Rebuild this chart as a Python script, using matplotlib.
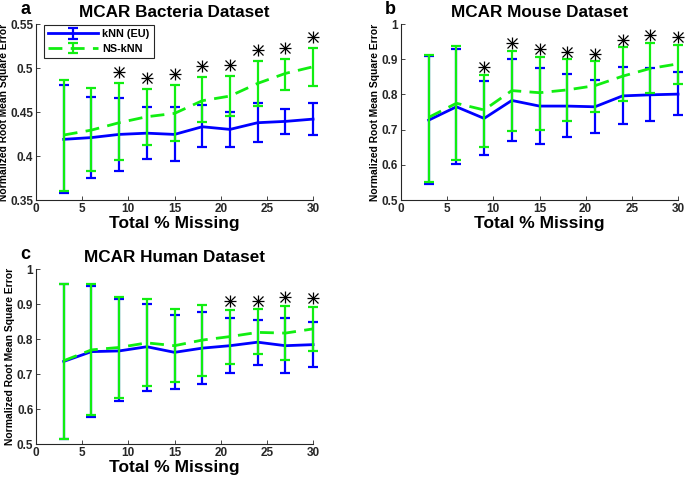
import numpy as np
import matplotlib
matplotlib.use('Agg')
import matplotlib.pyplot as plt

plt.rcParams['font.family'] = ['Liberation Sans', 'DejaVu Sans']
plt.rcParams['font.weight'] = 'bold'

# Total % missing
missing = [3, 6, 9, 12, 15, 18, 21, 24, 27, 30]

# Panel a: bacteria
bact_knn = [0.419, 0.421, 0.4246, 0.426, 0.4246, 0.4333, 0.4303, 0.4379, 0.4394, 0.442]
bact_knn_lo = [0.3576, 0.3754, 0.383, 0.3966, 0.3943, 0.4098, 0.4098, 0.4163, 0.425, 0.4239]
bact_knn_hi = [0.4803, 0.4667, 0.4659, 0.4557, 0.4557, 0.4576, 0.4504, 0.4598, 0.453, 0.4606]
bact_ns = [0.4239, 0.4295, 0.4379, 0.4447, 0.4485, 0.4629, 0.4682, 0.4826, 0.4939, 0.5015]
bact_ns_lo = [0.3606, 0.3826, 0.3955, 0.4125, 0.4174, 0.4386, 0.4455, 0.4568, 0.475, 0.4795]
bact_ns_hi = [0.486, 0.4773, 0.4826, 0.4761, 0.4803, 0.4894, 0.4909, 0.508, 0.5098, 0.5231]
bact_sig = [9, 12, 15, 18, 21, 24, 27, 30]

# Panel b: mouse
mouse_knn = [0.727, 0.765, 0.732, 0.783, 0.767, 0.767, 0.765, 0.796, 0.799, 0.801]
mouse_knn_lo = [0.546, 0.601, 0.629, 0.668, 0.66, 0.679, 0.69, 0.715, 0.725, 0.741]
mouse_knn_hi = [0.909, 0.929, 0.837, 0.9, 0.874, 0.858, 0.841, 0.877, 0.876, 0.863]
mouse_ns = [0.735, 0.775, 0.756, 0.811, 0.805, 0.813, 0.825, 0.852, 0.874, 0.887]
mouse_ns_lo = [0.55, 0.614, 0.651, 0.697, 0.7, 0.726, 0.749, 0.781, 0.805, 0.831]
mouse_ns_hi = [0.913, 0.939, 0.856, 0.924, 0.907, 0.9, 0.894, 0.934, 0.946, 0.942]
mouse_sig = [9, 12, 15, 18, 21, 24, 27, 30]

# Panel c: human
human_knn = [0.736, 0.764, 0.766, 0.778, 0.762, 0.774, 0.781, 0.791, 0.781, 0.784]
human_knn_lo = [0.515, 0.576, 0.622, 0.652, 0.658, 0.671, 0.702, 0.726, 0.704, 0.721]
human_knn_hi = [0.957, 0.952, 0.913, 0.901, 0.87, 0.877, 0.859, 0.855, 0.859, 0.849]
human_ns = [0.738, 0.769, 0.776, 0.789, 0.781, 0.797, 0.807, 0.819, 0.817, 0.829]
human_ns_lo = [0.515, 0.582, 0.631, 0.665, 0.676, 0.695, 0.73, 0.758, 0.741, 0.766]
human_ns_hi = [0.957, 0.957, 0.92, 0.915, 0.885, 0.897, 0.884, 0.885, 0.895, 0.892]
human_sig = [21, 24, 27, 30]

BLUE = '#0000ff'
GREEN = '#11ee11'
AXC = '#262626'


def draw_panel(ax, letter, title, knn, knn_lo, knn_hi, ns, ns_lo, ns_hi,
               sig, ylim, yticks, ylabels, star_pad, legend=False):
    knn = np.array(knn)
    ns = np.array(ns)
    h1 = ax.errorbar(missing, knn, yerr=[knn - np.array(knn_lo), np.array(knn_hi) - knn],
                     color=BLUE, lw=2, elinewidth=1.6, capsize=3.7, capthick=1.6,
                     clip_on=False, label='kNN (EU)', zorder=3)
    h2 = ax.errorbar(missing, ns, yerr=[ns - np.array(ns_lo), np.array(ns_hi) - ns],
                     color=GREEN, lw=2, elinewidth=1.6, capsize=3.7, capthick=1.6,
                     clip_on=False, label='NS-kNN', zorder=4)
    h2[0].set_dashes([5, 3])

    # significance stars above the NS-kNN error bars
    hi = dict(zip(missing, ns_hi))
    sy = [hi[m] + star_pad for m in sig]
    ax.plot(sig, sy, ls='none', marker='+', ms=9, mew=0.9, color='k', clip_on=False, zorder=5)
    ax.plot(sig, sy, ls='none', marker='x', ms=6.5, mew=0.9, color='k', clip_on=False, zorder=5)

    ax.set_xlim(0, 30)
    ax.set_ylim(*ylim)
    ax.set_xticks(range(0, 31, 5))
    ax.set_yticks(yticks)
    ax.set_yticklabels(ylabels)
    for s in ['top', 'right']:
        ax.spines[s].set_visible(False)
    for s in ['left', 'bottom']:
        ax.spines[s].set_color(AXC)
        ax.spines[s].set_linewidth(0.8)
    ax.tick_params(direction='in', length=3, width=0.6, colors=AXC, labelsize=8.5, pad=2)
    ax.set_title(title, fontsize=12.3, fontweight='bold', pad=5)
    ax.set_xlabel('Total % Missing', fontsize=12.5, fontweight='bold', labelpad=1)
    ax.set_ylabel('Normalized Root Mean Square Error', fontsize=7.4, fontweight='bold', labelpad=1)
    ax.text(-0.02, 1.058, letter, transform=ax.transAxes, fontsize=13, fontweight='bold',
            ha='right', va='baseline')
    if legend:
        leg = ax.legend(handles=[h1, h2], loc='upper left', bbox_to_anchor=(0.029, 0.997),
                        borderaxespad=0, fancybox=False, edgecolor=AXC, framealpha=1,
                        fontsize=7.8, handlelength=4.6, borderpad=0.4, labelspacing=0.45,
                        handletextpad=0.35)
        leg.get_frame().set_linewidth(0.8)


fig = plt.figure(figsize=(6.85, 4.82), dpi=100)
ax_a = fig.add_axes([0.0526, 0.585, 0.4044, 0.365])
ax_b = fig.add_axes([0.5854, 0.585, 0.4044, 0.365])
ax_c = fig.add_axes([0.0526, 0.0788, 0.4044, 0.363])

draw_panel(ax_a, 'a', 'MCAR Bacteria Dataset', bact_knn, bact_knn_lo, bact_knn_hi,
           bact_ns, bact_ns_lo, bact_ns_hi, bact_sig, (0.35, 0.55),
           [0.35, 0.4, 0.45, 0.5, 0.55], ['0.35', '0.4', '0.45', '0.5', '0.55'],
           0.0125, legend=True)
draw_panel(ax_b, 'b', 'MCAR Mouse Dataset', mouse_knn, mouse_knn_lo, mouse_knn_hi,
           mouse_ns, mouse_ns_lo, mouse_ns_hi, mouse_sig, (0.5, 1.0),
           [0.5, 0.6, 0.7, 0.8, 0.9, 1.0], ['0.5', '0.6', '0.7', '0.8', '0.9', '1'], 0.022)
draw_panel(ax_c, 'c', 'MCAR Human Dataset', human_knn, human_knn_lo, human_knn_hi,
           human_ns, human_ns_lo, human_ns_hi, human_sig, (0.5, 1.0),
           [0.5, 0.6, 0.7, 0.8, 0.9, 1.0], ['0.5', '0.6', '0.7', '0.8', '0.9', '1'], 0.024)

fig.savefig('out.png', dpi=100)
